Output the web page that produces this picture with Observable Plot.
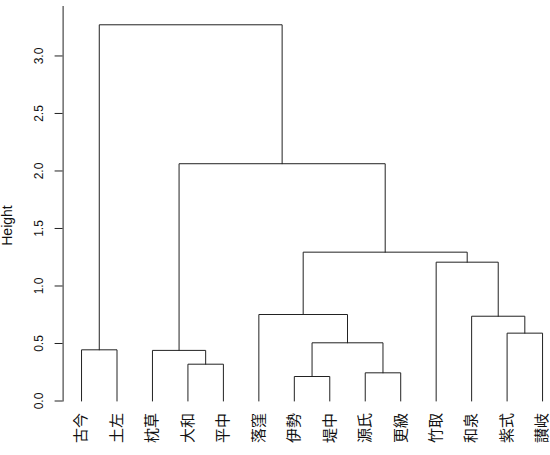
<!DOCTYPE html>
<html><head><meta charset="utf-8">
<script src="https://cdn.jsdelivr.net/npm/d3@7"></script>
<script src="https://cdn.jsdelivr.net/npm/@observablehq/plot@0.6"></script>
<style>
html,body{margin:0;padding:0;background:#fff;overflow:hidden}
svg{display:block}
</style>
</head><body><div id="chart"></div>
<script>
// Leaves in dendrogram order
const leafLabels = ["古今","土左","枕草","大和","平中","落窪","伊勢","堤中","源氏","更級","竹取","和泉","紫式","讃岐"];
// Merge table (R hclust style): negative = leaf number, positive = earlier merge step
const mergeLeft   = [-7, -9, -4, -1, -3, 1, -13, -12, -6, -11, 9, 5, 4];
const mergeRight  = [-8, -10, -5, -2, 3, 2, -14, 7, 6, 8, 10, 11, 12];
const mergeHeight = [0.213, 0.245, 0.32, 0.445, 0.44, 0.506, 0.59, 0.737, 0.752, 1.207, 1.294, 2.063, 3.271];
const yTicks = [0, 0.5, 1.0, 1.5, 2.0, 2.5, 3.0];

// Build dendrogram links from merge table
const nodeX = [], nodeH = [];
const ref = r => r < 0 ? {x: -r, h: 0} : {x: nodeX[r - 1], h: nodeH[r - 1]};
const links = [];
mergeHeight.forEach((h, i) => {
  const a = ref(mergeLeft[i]), b = ref(mergeRight[i]);
  links.push({x: a.x, y: a.h, z: i}, {x: a.x, y: h, z: i}, {x: b.x, y: h, z: i}, {x: b.x, y: b.h, z: i});
  nodeX.push((a.x + b.x) / 2);
  nodeH.push(h);
});
const leaves = leafLabels.map((name, i) => ({name, pos: i + 1}));
const topH = 3.43;

const chart = Plot.plot({
  width: 550,
  height: 455,
  marginTop: 6,
  marginBottom: 54.5,
  marginLeft: 62.6,
  marginRight: 0,
  style: {fontFamily: "'Liberation Sans', Arial, sans-serif", background: "#fff", color: "#000"},
  x: {domain: [0.48, 14.52], range: [62.6, 560.5], axis: null},
  y: {domain: [0, topH], range: [400.5, 6]},
  marks: [
    Plot.frame({anchor: "left", stroke: "#222"}),
    Plot.axisY(yTicks, {tickFormat: d3.format(".1f"), tickSize: 8, tickRotate: -90, tickPadding: 12, fontSize: 12, label: null, stroke: "#222", fill: "#111"}),
    Plot.text(["Height"], {frameAnchor: "left", rotate: -90, dx: -55.5, dy: 42, fontSize: 14, fill: "#111"}),
    Plot.line(links, {x: "x", y: "y", z: "z", stroke: "#222", strokeWidth: 1, curve: "linear"}),
    Plot.text(leaves, {x: "pos", y: () => 0, text: "name", rotate: -90, textAnchor: "end", dy: 12, fontSize: 15, fontFamily: "'Noto Sans CJK JP', sans-serif", fill: "#111"})
  ]
});
document.getElementById("chart").appendChild(chart);
</script>
</body></html>
